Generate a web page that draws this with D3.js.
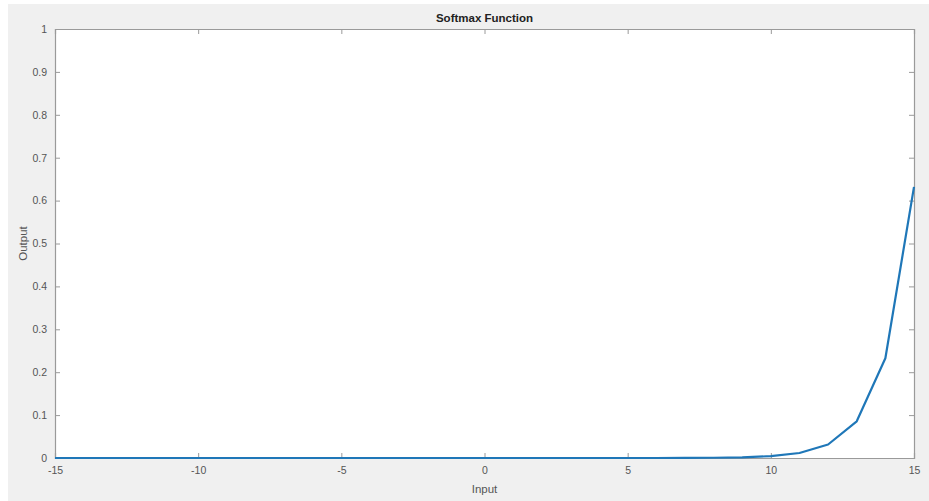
<!DOCTYPE html>
<html>
<head>
<meta charset="utf-8">
<script src="https://cdn.jsdelivr.net/npm/d3@7"></script>
<style>
  html, body { margin: 0; padding: 0; background: #fff; }
  svg { display: block; font-family: "Liberation Sans", Arial, sans-serif; }
</style>
</head>
<body>
<div id="chart"></div>
<script>
// values
var inputs = [-15, -14, -13, -12, -11, -10, -9, -8, -7, -6, -5, -4, -3, -2, -1,
  0, 1, 2, 3, 4, 5, 6, 7, 8, 9, 10, 11, 12, 13, 14, 15];
var outputs = [0, 0, 0, 0, 0, 0, 0, 0, 0, 0, 0, 0, 0, 0, 0,
  0, 0, 0, 0, 0, 0, 0, 0.0002, 0.0006, 0.0016, 0.0043, 0.0116, 0.0315, 0.0855, 0.2325, 0.632];
var xTicks = [-15, -10, -5, 0, 5, 10, 15];
var yTicks = [0, 0.1, 0.2, 0.3, 0.4, 0.5, 0.6, 0.7, 0.8, 0.9, 1];

var width = 929, height = 501;
var margin = { top: 29, right: 15, bottom: 43, left: 55 };
var innerW = width - margin.left - margin.right;
var innerH = height - margin.top - margin.bottom;

var svg = d3.select('#chart')
  .append('svg')
  .attr('width', width)
  .attr('height', height);

// figure background
svg.append('rect')
  .attr('x', 8).attr('y', 4)
  .attr('width', width - 8).attr('height', height - 4)
  .attr('fill', '#f0f0f0');

var g = svg.append('g')
  .attr('transform', 'translate(' + margin.left + ',' + margin.top + ')');

g.append('rect')
  .attr('width', innerW).attr('height', innerH)
  .attr('fill', '#fff');

var x = d3.scaleLinear().domain([-15, 15]).range([0, innerW]);
var y = d3.scaleLinear().domain([0, 1]).range([innerH, 0]);

// plain hyphen minus, like the original
var fmt = function (d) { return String(+d.toFixed(1)); };

var axisColor = '#9a9a9a';
var textColor = '#555';

function styleAxis(sel, showText) {
  sel.select('.domain').attr('stroke', axisColor).attr('stroke-width', 1.2);
  sel.selectAll('.tick line').attr('stroke', axisColor);
  sel.selectAll('.tick text')
    .attr('fill', textColor)
    .attr('font-size', 10.5)
    .style('display', showText ? null : 'none');
}

g.append('g')
  .attr('transform', 'translate(0,' + innerH + ')')
  .call(d3.axisBottom(x).tickValues(xTicks).tickSize(-5).tickPadding(9).tickFormat(fmt))
  .call(styleAxis, true);

g.append('g')
  .call(d3.axisTop(x).tickValues(xTicks).tickSize(-5).tickFormat(fmt))
  .call(styleAxis, false);

g.append('g')
  .call(d3.axisLeft(y).tickValues(yTicks).tickSize(-5).tickPadding(8).tickFormat(fmt))
  .call(styleAxis, true);

g.append('g')
  .attr('transform', 'translate(' + innerW + ',0)')
  .call(d3.axisRight(y).tickValues(yTicks).tickSize(-5).tickFormat(fmt))
  .call(styleAxis, false);

var data = inputs.map(function (d, i) {
  return { input: d, output: outputs[i] };
});

var line = d3.line()
  .x(function (d) { return x(d.input); })
  .y(function (d) { return y(d.output); });

g.append('path')
  .datum(data)
  .attr('fill', 'none')
  .attr('stroke', '#1f77b8')
  .attr('stroke-width', 2.2)
  .attr('stroke-linejoin', 'round')
  .attr('d', line);

svg.append('text')
  .attr('x', margin.left + innerW / 2)
  .attr('y', 22)
  .attr('text-anchor', 'middle')
  .attr('font-size', 11.5)
  .attr('font-weight', 'bold')
  .attr('fill', '#222')
  .text('Softmax Function');

svg.append('text')
  .attr('x', margin.left + innerW / 2)
  .attr('y', 493)
  .attr('text-anchor', 'middle')
  .attr('font-size', 11.5)
  .attr('fill', textColor)
  .text('Input');

svg.append('text')
  .attr('transform', 'translate(27,' + (margin.top + innerH / 2) + ') rotate(-90)')
  .attr('text-anchor', 'middle')
  .attr('font-size', 11.5)
  .attr('fill', textColor)
  .text('Output');
</script>
</body>
</html>
